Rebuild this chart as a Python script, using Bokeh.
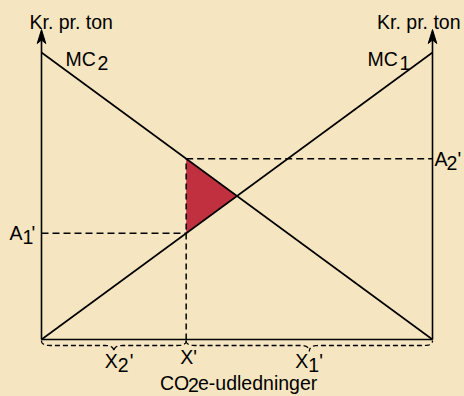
import numpy as np
from bokeh.plotting import figure
from bokeh.models import Range1d, GlobalInlineStyleSheet, ColumnDataSource
from bokeh.core.properties import value
from bokeh.embed import file_html
from bokeh.resources import INLINE

# ---------------- data ----------------
emissions = [0, 100]      # quantity axis: left axis -> right axis
mc1 = [0, 100]            # MC1 (rising)
mc2 = [100, 0]            # MC2 (falling)
x_prime = 37              # X'
axis_top = 108            # tip of the two price axes
axis_label = "Kr. pr. ton"
x_label = ["CO", "2", "e-udledninger"]

# derived quantities
a1 = float(np.interp(x_prime, emissions, mc1))   # A1'
a2 = float(np.interp(x_prime, emissions, mc2))   # A2'
s1 = (mc1[1] - mc1[0]) / (emissions[1] - emissions[0])
s2 = (mc2[1] - mc2[0]) / (emissions[1] - emissions[0])
x_star = emissions[0] + (mc2[0] - mc1[0]) / (s1 - s2)
y_star = mc1[0] + s1 * (x_star - emissions[0])
e0, e1 = emissions

# ---------------- style ----------------
BG = "#f5e6c1"
RED = "#c0303f"
INK = "#000000"
FONT = value("Liberation Sans")
FSIZE = value("19.5px")
SX, SY = 3.91, 2.87   # pixels per data unit
BASE_FIX = -6         # baseline correction (px) for svg text placement


def dq(px):
    return px / SX


def dp(py):
    return -py / SY


p = figure(width=464, height=396,
           x_range=Range1d(-10.486, 108.184), y_range=Range1d(-19.861, 118.118),
           output_backend="svg", toolbar_location=None,
           x_axis_type=None, y_axis_type=None, min_border=0,
           background_fill_color=BG, border_fill_color=BG,
           outline_line_color=None)
p.stylesheets = [GlobalInlineStyleSheet(css="html, body { background-color: #f5e6c1; }")]

# shaded triangle
p.patch([x_prime, x_prime, x_star], [a2, a1, y_star], fill_color=RED, line_color=None)

# dashed guides
p.line([e0, x_prime], [a1, a1], line_color=INK, line_width=1.5, line_dash="7 4")
p.line([x_prime, e1], [a2, a2], line_color=INK, line_width=1.5, line_dash="7 4")
p.line([x_prime, x_prime], [0, a2], line_color=INK, line_width=1.5, line_dash="6 4")


# braces
def brace(a, b, body, tip, w):
    m = (a + b) / 2
    t = np.linspace(0, 1, 14)

    def qb(p0, p1, p2):
        return ((1 - t) ** 2 * p0[0] + 2 * (1 - t) * t * p1[0] + t ** 2 * p2[0],
                (1 - t) ** 2 * p0[1] + 2 * (1 - t) * t * p1[1] + t ** 2 * p2[1])

    segs = [qb((a, dp(1)), (a, -body), (a + w, -body)),
            qb((m - w, -body), (m, -body), (m, -tip)),
            qb((m, -tip), (m, -body), (m + w, -body)),
            qb((b - w, -body), (b, -body), (b, dp(1)))]
    xs = np.concatenate([s[0] for s in segs])
    ys = np.concatenate([s[1] for s in segs])
    return xs, ys


for a, b in [(e0, x_prime), (x_prime, e1)]:
    bx, by = brace(a, b, -dp(6), -dp(12), dq(8.5))
    p.line(bx, by, line_color=INK, line_width=1.3, line_dash="5 3")

# axes
p.line([e0, e1], [0, 0], line_color=INK, line_width=1.6)
for ex in (e0, e1):
    p.line([ex, ex], [0, axis_top + dp(3)], line_color=INK, line_width=1.6)
    p.patch([ex, ex - dq(4.3), ex, ex + dq(4.3)],
            [axis_top, axis_top + dp(14), axis_top + dp(10.5), axis_top + dp(14)],
            fill_color=INK, line_color=INK, line_width=1)

# MC curves
p.line(emissions, mc1, line_color=INK, line_width=1.6)
p.line(emissions, mc2, line_color=INK, line_width=1.6)

# ---------------- labels ----------------
left_items = []
right_items = []


def put(ax, ay, dx, dy, txt, where=left_items):
    where.append((ax + dq(dx), ay + dp(dy + BASE_FIX), txt))


put(e0, axis_top, -12, -2, axis_label)
put(e1, axis_top, 28, -2, axis_label, right_items)
# MC2
put(e0, mc2[0], 24, 13, "MC")
put(e0, mc2[0], 56, 17, "2")
# MC1
put(e1, mc1[1], -65, 13, "MC")
put(e1, mc1[1], -33, 17, "1")
# A1'
put(e0, a1, -32, 6, "A")
put(e0, a1, -19, 10, "1")
put(e0, a1, -10, 6, "'")
# A2'
put(e1, a2, 2, 6, "A")
put(e1, a2, 14, 10, "2")
put(e1, a2, 25, 6, "'")
# X2'
m1 = (e0 + x_prime) / 2
put(m1, 0, -9, 28, "X")
put(m1, 0, 4, 32, "2")
put(m1, 0, 16, 28, "'")
# X'
put(x_prime, 0, -6, 24, "X")
put(x_prime, 0, 7, 24, "'")
# X1'
m2 = (x_prime + e1) / 2
put(m2, 0, -14, 28, "X")
put(m2, 0, -1, 32, "1")
put(m2, 0, 10, 28, "'")
# x axis title
cx = (e0 + e1) / 2
put(cx, 0, -77, 50, x_label[0])
put(cx, 0, -49, 52, x_label[1])
put(cx, 0, -39, 50, x_label[2])

for items, align in [(left_items, "left"), (right_items, "right")]:
    src = ColumnDataSource(dict(x=[i[0] for i in items], y=[i[1] for i in items],
                                t=[i[2] for i in items]))
    p.text(x="x", y="y", text="t", source=src, text_font=FONT, text_font_size=FSIZE,
           text_color=INK, text_align=align, text_baseline="alphabetic")

open("out.html", "w").write(file_html(p, INLINE))
